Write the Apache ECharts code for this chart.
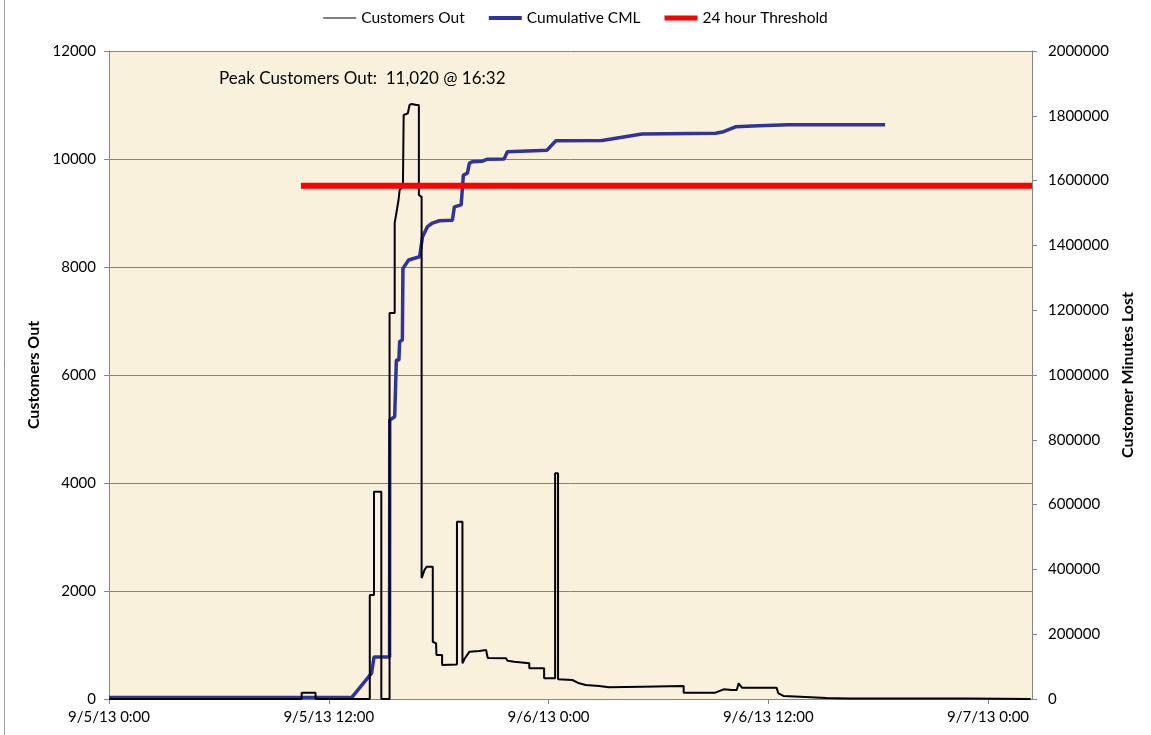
<!DOCTYPE html>
<html>
<head>
<meta charset="utf-8">
<script src="https://cdn.jsdelivr.net/npm/echarts@6/dist/echarts.min.js"></script>
<style>
html,body{margin:0;padding:0;background:#fff;}
#chart{width:1151px;height:735px;}
</style>
</head>
<body>
<div id="chart"></div>
<script>
// Hours since 9/5/13 0:00
const custTimes = [0,10.52,10.52,11.28,11.28,14.24,14.24,14.47,14.47,14.87,14.87,15.32,15.32,15.60,15.60,15.68,15.72,15.81,15.87,16.05,16.09,16.09,16.32,16.41,16.53,16.79,16.92,16.92,17.07,17.07,17.23,17.34,17.68,17.68,17.86,17.88,18.19,18.19,19.00,19.00,19.30,19.30,19.41,19.68,20.22,20.59,20.68,21.68,21.76,22.13,22.95,22.95,23.76,23.76,24.36,24.36,24.52,24.52,25.30,25.67,26.03,26.76,27.30,29.11,31.38,31.38,33.11,33.20,33.56,33.65,34.01,34.28,34.38,34.56,36.45,36.55,36.83,37.74,39.17,40.36,46.90,46.90,50.33];
const custValues = [0,0,115,115,0,0,1926,1926,3840,3840,0,0,7150,7150,8815,8815,9056,9241,9426,9500,9500,10815,10846,11000,11020,11000,11000,9333,9300,2240,2390,2450,2450,1060,1030,815,815,630,640,3283,3283,660,740,877,890,907,760,754,710,690,661,568,568,383,383,4180,4180,365,352,290,260,240,216,228,240,117,117,142,179,191,167,167,290,210,210,105,56,43,20,8,8,3,0];

const cmlTimes = [0,13.26,14.34,14.47,15.32,15.33,15.60,15.69,15.83,15.87,16.02,16.05,16.36,16.96,17.12,17.39,17.66,18.04,18.75,18.86,19.23,19.35,19.57,19.68,19.83,20.39,20.66,21.58,21.75,23.92,24.40,26.92,29.10,33.12,33.56,34.21,35.46,37.10,42.38];
const cmlValues = [5000,5000,80000,130000,130000,861000,871000,1046000,1046000,1103000,1108000,1329000,1355000,1365000,1427000,1458000,1469000,1476000,1478000,1519000,1525000,1617000,1623000,1654000,1658000,1660000,1666000,1667000,1689000,1694000,1723000,1724000,1744000,1746000,1751000,1766000,1769000,1772000,1772000];

const thresholdTimes = [10.48, 50.4];
const thresholdValues = [1584000, 1584000];

const xTickLabels = ['9/5/13 0:00','9/5/13 12:00','9/6/13 0:00','9/6/13 12:00','9/7/13 0:00'];
const xTickHours = [0,12,24,36,48];

const seriesNames = ['Customers Out','Cumulative CML','24 hour Threshold'];
const peakText = 'Peak Customers Out:  11,020 @ 16:32';

const zip = (a,b) => a.map((t,i) => [t, b[i]]);
const FONT = 'Lato';
const BLUE = '#30339A';
const GRID = '#848484';

const chart = echarts.init(document.getElementById('chart'));
chart.setOption({
  backgroundColor: '#ffffff',
  animation: false,
  textStyle: {fontFamily: FONT, color: '#000'},
  title: {
    text: peakText,
    left: 214, top: 65,
    textStyle: {fontFamily: FONT, fontSize: 17, fontWeight: 'normal', color: '#000'}
  },
  legend: {
    top: 5, left: 'center',
    itemWidth: 33, itemHeight: 14, itemGap: 24,
    symbolKeepAspect: true,
    textStyle: {fontFamily: FONT, fontSize: 15.5, color: '#000'},
    data: [
      {name: seriesNames[0], icon: 'path://M0,0H33V1.2H0Z'},
      {name: seriesNames[1], icon: 'path://M0,0H33V4H0Z'},
      {name: seriesNames[2], icon: 'path://M0,0H33V5H0Z'}
    ]
  },
  grid: {
    left: 109, right: 119, top: 51, bottom: 36,
    show: true, backgroundColor: '#FAF1DC', borderWidth: 0
  },
  xAxis: {
    type: 'value',
    min: 0, max: 50.4, interval: 12,
    axisLine: {lineStyle: {color: GRID, width: 1}},
    axisTick: {show: true, inside: false, length: 5, lineStyle: {color: GRID}, customValues: xTickHours},
    axisLabel: {
      customValues: xTickHours,
      margin: 11, fontSize: 15, fontFamily: FONT, color: '#000',
      formatter: v => { const i = xTickHours.indexOf(Math.round(v*100)/100); return i >= 0 ? xTickLabels[i] : ''; }
    },
    splitLine: {show: false}
  },
  yAxis: [
    {
      type: 'value', min: 0, max: 12000, interval: 2000,
      position: 'left',
      name: 'Customers Out', nameLocation: 'middle', nameGap: 61, nameRotate: 90,
      nameTextStyle: {fontFamily: FONT, fontSize: 16, fontWeight: 'bold', color: '#000'},
      axisLine: {show: true, lineStyle: {color: GRID}},
      axisTick: {show: true, length: 5, lineStyle: {color: GRID}},
      axisLabel: {margin: 13, fontSize: 15, fontFamily: FONT, color: '#000', formatter: v => String(v)},
      splitLine: {show: true, lineStyle: {color: GRID, width: 1}}
    },
    {
      type: 'value', min: 0, max: 2000000, interval: 200000,
      position: 'right',
      name: 'Customer Minutes Lost', nameLocation: 'middle', nameGap: 80, nameRotate: 90,
      nameTextStyle: {fontFamily: FONT, fontSize: 16, fontWeight: 'bold', color: '#000'},
      axisLine: {show: true, lineStyle: {color: GRID}},
      axisTick: {show: true, length: 5, lineStyle: {color: GRID}},
      axisLabel: {margin: 16, fontSize: 15, fontFamily: FONT, color: '#000', formatter: v => String(v)},
      splitLine: {show: false}
    }
  ],
  graphic: [
    {type: 'line', shape: {x1: 4.5, y1: 0, x2: 4.5, y2: 735}, style: {stroke: '#9a9a9a', lineWidth: 1}}
  ],
  series: [
    {
      name: seriesNames[0], type: 'line', yAxisIndex: 0,
      data: zip(custTimes, custValues),
      symbol: 'none', lineStyle: {color: '#000', width: 2}, itemStyle: {color: '#000'},
      z: 3
    },
    {
      name: seriesNames[1], type: 'line', yAxisIndex: 1,
      data: zip(cmlTimes, cmlValues),
      symbol: 'none', lineStyle: {color: BLUE, width: 3.5}, itemStyle: {color: BLUE},
      z: 2
    },
    {
      name: seriesNames[2], type: 'line', yAxisIndex: 1,
      data: zip(thresholdTimes, thresholdValues),
      symbol: 'none', lineStyle: {color: '#FF0000', width: 6}, itemStyle: {color: '#FF0000'},
      z: 4
    }
  ]
});
</script>
</body>
</html>
